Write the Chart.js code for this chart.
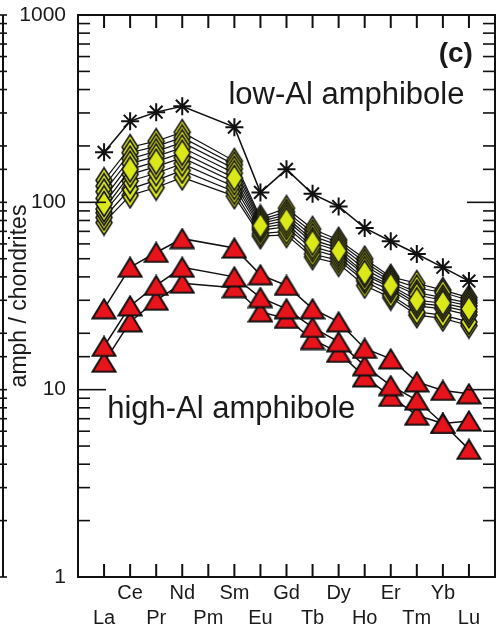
<!DOCTYPE html>
<html>
<head>
<meta charset="utf-8">
<script src="https://cdn.jsdelivr.net/npm/chart.js@4.4.1/dist/chart.umd.min.js"></script>
<style>
  html, body { margin: 0; padding: 0; background: #fff; }
  #wrap { width: 497px; height: 634px; }
</style>
</head>
<body>
<div id="wrap"><canvas id="reeChart" width="497" height="634"></canvas></div>
<script>
// REE order; Pm is not analysed
const elements = ['La', 'Ce', 'Pr', 'Nd', 'Pm', 'Sm', 'Eu', 'Gd', 'Tb', 'Dy', 'Ho', 'Er', 'Tm', 'Yb', 'Lu'];
const yTickLabels = [1, 10, 100, 1000];

// bulk / reference pattern (asterisks)
const refPattern = [185, 271, 303, 326, null, 252, 113, 150, 111, 95, 73, 62, 53, 45, 38];

// low-Al amphibole analyses (diamonds)
const lowAl1 = [131, 197, 212, 237, null, 166, 83, 93, 72, 63, 50, 40, 37, 34, 31];
const lowAl2 = [122, 184, 199, 222, null, 159, 81, 89, 69, 61, 48, 39, 35, 33, 30];
const lowAl3 = [114, 171, 187, 209, null, 151, 79, 86, 66, 59, 46, 38, 33, 31, 29];
const lowAl4 = [105, 161, 176, 196, null, 143, 77, 83, 63, 57, 44, 37, 32, 30, 28];
const lowAl5 = [98, 150, 165, 184, null, 135, 75, 80, 61, 55, 42, 36, 30, 29, 27];
const lowAl6 = [92, 141, 155, 173, null, 128, 73, 77, 58, 53, 41, 35, 29, 28, 26];
const lowAl7 = [88, 130, 143, 161, null, 121, 71, 74, 56, 51, 39, 34, 28, 27, 25];
const lowAl8 = [83, 118, 131, 148, null, 114, 68, 70, 53, 49, 38, 32, 26, 25, 23];
const lowAl9 = [78, 109, 120, 136, null, 108, 66, 67, 51, 47, 36, 31, 25, 24, 22];

// high-Al amphibole analyses (triangles)
const highAl1 = [27, 45, 54, 64, null, 57, 41, 36, 27, 23, 16.6, 14.6, 11.0, 9.9, 9.5];
const highAl2 = [17, 28, 36, 45, null, 40, 31, 27, 21.5, 18, 13.4, 10.5, 8.8, 6.6, 4.8];
const highAl3 = [14, 23, 30, 37, null, 35, 26, 24, 18.5, 15.8, 11.7, 9.2, 7.3, 6.6, 6.8];

const FONT = '"Liberation Sans", Arial, Helvetica, sans-serif';

function pts(vals) {
  return vals.map((v, i) => ({ x: i, y: v }));
}

function diamondSymbol() {
  const c = document.createElement('canvas');
  c.width = 20; c.height = 28;
  const g = c.getContext('2d');
  g.beginPath();
  g.moveTo(10, 1.5); g.lineTo(18, 14); g.lineTo(10, 26.5); g.lineTo(2, 14); g.closePath();
  g.fillStyle = '#dbe81a';
  g.fill();
  g.lineWidth = 1.6;
  g.strokeStyle = '#151515';
  g.stroke();
  return c;
}

function triangleSymbol() {
  const c = document.createElement('canvas');
  c.width = 26; c.height = 22;
  const g = c.getContext('2d');
  g.beginPath();
  g.moveTo(13, 1.5); g.lineTo(24.5, 20.5); g.lineTo(1.5, 20.5); g.closePath();
  g.fillStyle = '#e8141c';
  g.fill();
  g.lineWidth = 2;
  g.strokeStyle = '#111';
  g.stroke();
  return c;
}

const diamond = diamondSymbol();
const triangle = triangleSymbol();

function lowAlSet(vals, order) {
  return {
    data: pts(vals), order: order,
    borderColor: '#111', borderWidth: 1.2,
    pointStyle: diamond, pointRadius: 10,
    spanGaps: true
  };
}

function highAlSet(vals) {
  return {
    data: pts(vals), order: 1,
    borderColor: '#111', borderWidth: 1.5,
    pointStyle: triangle, pointRadius: 11,
    spanGaps: true
  };
}

// frame, inward ticks and text labels
const frameAndText = {
  id: 'frameAndText',
  afterDraw(chart) {
    const { ctx, chartArea: a, scales: { x, y } } = chart;
    const seg = (x1, y1, x2, y2) => { ctx.beginPath(); ctx.moveTo(x1, y1); ctx.lineTo(x2, y2); ctx.stroke(); };
    ctx.save();
    ctx.strokeStyle = '#111';
    ctx.lineWidth = 2;
    ctx.strokeRect(a.left, a.top, a.right - a.left, a.bottom - a.top);

    elements.forEach((el, i) => {
      const px = x.getPixelForValue(i);
      seg(px, a.bottom, px, a.bottom - 13);
      seg(px, a.top, px, a.top + 13);
    });

    // edge of the neighbouring panel
    seg(3, a.top, 3, a.bottom);
    y.ticks.forEach(t => {
      const py = y.getPixelForValue(t.value);
      const major = yTickLabels.includes(t.value);
      const len = major ? 28 : 12;
      ctx.lineWidth = 1.6;
      seg(a.left, py, a.left + len, py);
      seg(a.right, py, a.right - len, py);
      seg(0, py, 7, py);
    });

    ctx.fillStyle = '#1a1a1a';
    ctx.textBaseline = 'middle';
    ctx.textAlign = 'center';
    ctx.font = '31px ' + FONT;
    ctx.fillText('low-Al amphibole', x.getPixelForValue(9.3), y.getPixelForValue(370));
    ctx.fillText('high-Al amphibole', x.getPixelForValue(4.88), y.getPixelForValue(7.8));
    ctx.textAlign = 'right';
    ctx.font = 'bold 28px ' + FONT;
    ctx.fillText('(c)', x.getPixelForValue(14.15), y.getPixelForValue(617));
    ctx.restore();
  }
};

const datasets = [
  {
    data: pts(refPattern), order: 0,
    borderColor: '#111', borderWidth: 1.5,
    pointStyle: 'star', pointRadius: 9, pointBorderWidth: 2,
    pointBorderColor: '#111', spanGaps: true
  },
  highAlSet(highAl1), highAlSet(highAl2), highAlSet(highAl3),
  lowAlSet(lowAl1, 20), lowAlSet(lowAl2, 19), lowAlSet(lowAl3, 18), lowAlSet(lowAl4, 17),
  lowAlSet(lowAl9, 16), lowAlSet(lowAl8, 15), lowAlSet(lowAl7, 14), lowAlSet(lowAl6, 13),
  lowAlSet(lowAl5, 12)
];

new Chart(document.getElementById('reeChart'), {
  type: 'line',
  data: { datasets: datasets },
  options: {
    responsive: false,
    animation: false,
    devicePixelRatio: 1,
    layout: { autoPadding: false, padding: { top: 15, right: 2, left: 0, bottom: 0 } },
    plugins: { legend: { display: false }, tooltip: { enabled: false } },
    scales: {
      x: {
        type: 'linear', min: -1, max: 15,
        afterFit: s => { s.height = 57; s.paddingLeft = 0; s.paddingRight = 0; },
        border: { display: false },
        grid: { display: false, drawTicks: false },
        ticks: {
          stepSize: 1, autoSkip: false, maxRotation: 0, padding: 4,
          color: '#1a1a1a',
          font: { family: FONT, size: 20, lineHeight: 1.25 },
          callback: v => {
            const name = elements[v];
            if (!name) return '';
            return v % 2 ? [name, ' '] : [' ', name];
          }
        }
      },
      y: {
        type: 'logarithmic', min: 1, max: 1000,
        afterFit: s => { s.width = 78; s.paddingTop = 0; s.paddingBottom = 0; },
        border: { display: false },
        grid: { display: false, drawTicks: false },
        ticks: {
          autoSkip: false, padding: 12, color: '#1a1a1a',
          font: { family: FONT, size: 21 },
          callback: v => yTickLabels.includes(v) ? String(v) : ''
        },
        title: {
          display: true, text: 'amph / chondrites', color: '#1a1a1a',
          font: { family: FONT, size: 23 },
          padding: { top: 6 }
        }
      }
    }
  },
  plugins: [frameAndText]
});
</script>
</body>
</html>
